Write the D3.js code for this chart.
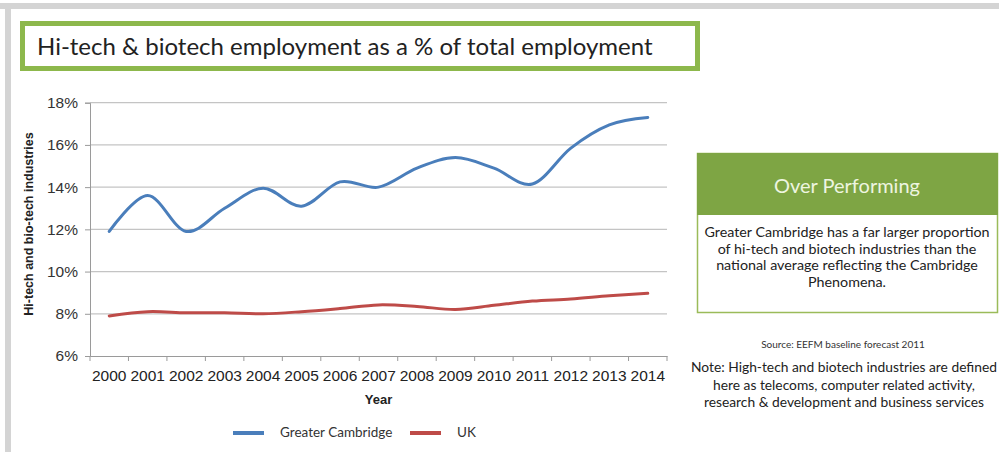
<!DOCTYPE html>
<html>
<head>
<meta charset="utf-8">
<script src="https://cdn.jsdelivr.net/npm/d3@7"></script>
<style>
  body { margin: 0; background: #fff; }
  svg { display: block; }
</style>
</head>
<body>
<div id="chart"></div>
<script>
// values
var years = ["2000","2001","2002","2003","2004","2005","2006","2007","2008","2009","2010","2011","2012","2013","2014"];
var cambridge = [11.9, 13.6, 11.9, 13.0, 13.95, 13.1, 14.25, 14.0, 14.9, 15.4, 14.9, 14.15, 15.85, 16.95, 17.3];
var uk = [7.9, 8.1, 8.05, 8.05, 8.0, 8.1, 8.25, 8.42, 8.35, 8.2, 8.4, 8.6, 8.7, 8.85, 8.97];
var yTicks = [6, 8, 10, 12, 14, 16, 18];
var seriesNames = ["Greater Cambridge", "UK"];
var seriesColors = ["#4a7ebb", "#be4b48"];

var svg = d3.select("#chart").append("svg").attr("width", 999).attr("height", 452);

// frame
svg.append("rect").attr("x", 0).attr("y", 3).attr("width", 999).attr("height", 6).attr("fill", "#d4d4d4");
svg.append("rect").attr("x", 5).attr("y", 3).attr("width", 6).attr("height", 449).attr("fill", "#d4d4d4");

// title box
svg.append("rect").attr("x", 22.5).attr("y", 23.5).attr("width", 675).attr("height", 45)
  .attr("fill", "#fff").attr("stroke", "#8db84c").attr("stroke-width", 5);
svg.append("text").attr("x", 37).attr("y", 55)
  .style("font-family", "Lato, sans-serif").style("font-size", "24px").style("fill", "#222")
  .text("Hi-tech & biotech employment as a % of total employment");

var x = d3.scaleBand().domain(years).range([90, 667]).padding(0);
var y = d3.scaleLinear().domain([6, 18]).range([356, 102.7]);

// grid
svg.append("g").selectAll("line").data(yTicks.slice(1)).enter().append("line")
  .attr("x1", 90).attr("x2", 667)
  .attr("y1", function(d){ return y(d); }).attr("y2", function(d){ return y(d); })
  .attr("stroke", "#c4c4c4").attr("stroke-width", 1.2);

// y axis
var yAxis = svg.append("g").attr("transform", "translate(90,0)")
  .call(d3.axisLeft(y).tickValues(yTicks).tickSize(5).tickPadding(7).tickFormat(function(d){ return d + "%"; }));
yAxis.select(".domain").attr("stroke", "#9a9a9a");
yAxis.selectAll(".tick line").attr("stroke", "#9a9a9a");
yAxis.selectAll("text").style("font-family", "Liberation Sans, Arial, sans-serif").style("font-size", "15.5px").style("fill", "#333");

// x axis
var xAxis = svg.append("g").attr("transform", "translate(0,356)")
  .call(d3.axisBottom(x).tickSize(0).tickPadding(14));
xAxis.select(".domain").attr("stroke", "#9a9a9a");
xAxis.selectAll("text").style("font-family", "Liberation Sans, Arial, sans-serif").style("font-size", "15.5px").style("fill", "#222");
svg.append("g").selectAll("line").data(years.concat(["end"])).enter().append("line")
  .attr("x1", function(d){ return d === "end" ? x.range()[1] : x(d); })
  .attr("x2", function(d){ return d === "end" ? x.range()[1] : x(d); })
  .attr("y1", 356).attr("y2", 361).attr("stroke", "#9a9a9a");

// axis titles
svg.append("text").attr("x", 378.5).attr("y", 404).attr("text-anchor", "middle")
  .style("font-family", "Liberation Sans, Arial, sans-serif").style("font-size", "13px").style("font-weight", "bold").style("fill", "#222")
  .text("Year");
svg.append("text").attr("transform", "translate(33,224) rotate(-90)").attr("text-anchor", "middle")
  .style("font-family", "Liberation Sans, Arial, sans-serif").style("font-size", "12.5px").style("font-weight", "bold").style("fill", "#222")
  .text("Hi-tech and bio-tech industries");

// lines
var line = d3.line()
  .x(function(d, i){ return x(years[i]) + x.bandwidth() / 2; })
  .y(function(d){ return y(d); })
  .curve(d3.curveCardinal.tension(0));
[cambridge, uk].forEach(function(s, i) {
  svg.append("path").datum(s).attr("d", line).attr("fill", "none")
    .attr("stroke", seriesColors[i]).attr("stroke-width", 3).attr("stroke-linecap", "round");
});

// legend
var legX = [233, 410];
seriesNames.forEach(function(n, i) {
  svg.append("line").attr("x1", legX[i]).attr("x2", legX[i] + 31).attr("y1", 433).attr("y2", 433)
    .attr("stroke", seriesColors[i]).attr("stroke-width", 4);
  svg.append("text").attr("x", legX[i] + 47).attr("y", 437)
    .style("font-family", "Lato, sans-serif").style("font-size", "13.5px").style("fill", "#333")
    .text(n);
});

// side panel
svg.append("rect").attr("x", 697.5).attr("y", 153.5).attr("width", 300).attr("height", 159)
  .attr("fill", "#fff").attr("stroke", "#9bbb59").attr("stroke-width", 1.5);
svg.append("rect").attr("x", 697).attr("y", 153).attr("width", 301).attr("height", 62).attr("fill", "#7ea544");
svg.append("text").attr("x", 847).attr("y", 193).attr("text-anchor", "middle")
  .style("font-family", "Lato, sans-serif").style("font-size", "20px").style("fill", "#eef5e0")
  .text("Over Performing");
var body = ["Greater Cambridge has a far larger proportion", "of hi-tech and biotech industries than the",
  "national average reflecting the Cambridge", "Phenomena."];
svg.append("g").selectAll("text").data(body).enter().append("text")
  .attr("x", 847).attr("y", function(d, i){ return 237 + i * 16.5; }).attr("text-anchor", "middle")
  .style("font-family", "Lato, sans-serif").style("font-size", "14.3px").style("fill", "#222")
  .text(function(d){ return d; });

svg.append("text").attr("x", 843).attr("y", 348).attr("text-anchor", "middle")
  .style("font-family", "Lato, sans-serif").style("font-size", "10px").style("fill", "#333")
  .text("Source: EEFM baseline forecast 2011");
var note = ["Note: High-tech and biotech industries are defined", "here as telecoms, computer related activity,",
  "research & development and business services"];
svg.append("g").selectAll("text").data(note).enter().append("text")
  .attr("x", 844).attr("y", function(d, i){ return 372 + i * 17.5; }).attr("text-anchor", "middle")
  .style("font-family", "Lato, sans-serif").style("font-size", "13.8px").style("fill", "#222")
  .text(function(d){ return d; });
</script>
</body>
</html>
